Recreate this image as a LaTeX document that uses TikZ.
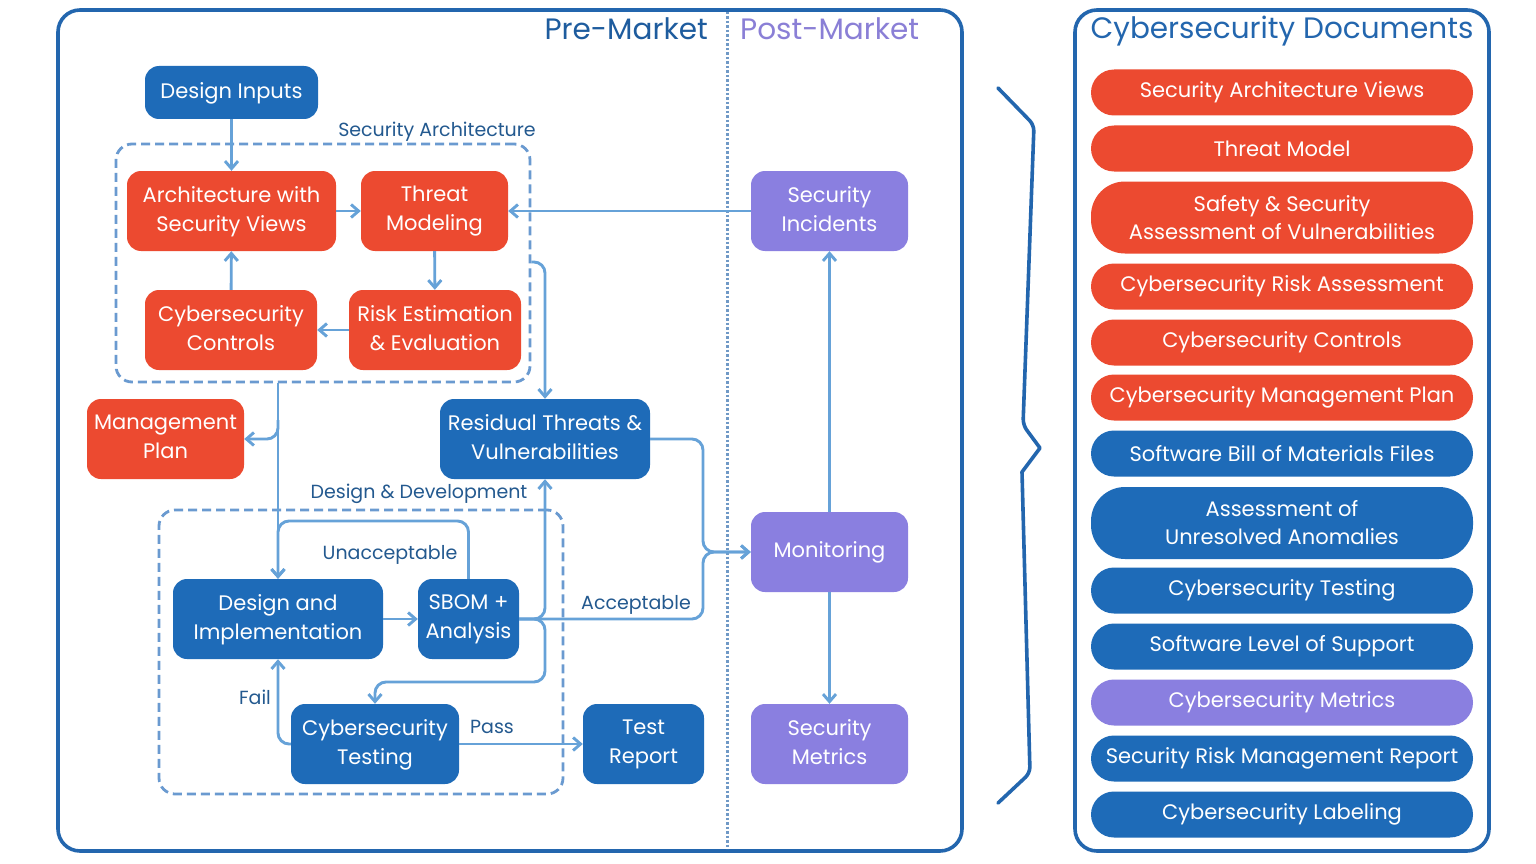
\documentclass[tikz,border=0pt]{standalone}
\usepackage{fontspec}
\setmainfont{Poppins}
\usetikzlibrary{arrows.meta}
\definecolor{cred}{HTML}{EC4A30}
\definecolor{cblue}{HTML}{1E6BB8}
\definecolor{cpurp}{HTML}{8A7FE0}
\definecolor{carrow}{HTML}{66A2D8}
\definecolor{cdash}{HTML}{6A9AD0}
\definecolor{cframe}{HTML}{2366AE}
\definecolor{clabel}{HTML}{23598F}
\definecolor{cpre}{HTML}{1E5C9E}
\definecolor{cpost}{HTML}{8A7FD6}
\definecolor{cdot}{HTML}{7099C6}
\begin{document}
\begin{tikzpicture}[x=1pt,y=-1pt,
  box/.style={rounded corners=14pt, text=white, align=center, inner sep=0pt,
    text depth=4.6pt, font=\fontsize{21}{29}\selectfont},
  wh/.style 2 args={minimum width=#1pt, minimum height=#2pt},
  redbox/.style={box, fill=cred},
  bluebox/.style={box, fill=cblue},
  purpbox/.style={box, fill=cpurp},
  pill/.style={text=white, align=center, inner sep=0pt, minimum width=382pt,
    minimum height=46pt, rounded corners=23pt, font=\fontsize{21}{28}\selectfont},
  tallpill/.style={pill, minimum height=72pt, rounded corners=34pt},
  conn/.style={draw=carrow, line width=2.9pt, rounded corners=11pt,
    -{Straight Barb[length=7.5pt,width=13pt,line width=2.9pt]}},
  grp/.style={draw=cdash, line width=2.8pt, dash pattern=on 9pt off 5pt,
    rounded corners=16pt, inner sep=0pt},
  lbl/.style={text=clabel, inner sep=0pt, font=\fontsize{19}{22}\selectfont},
  frame/.style={draw=cframe, line width=3.6pt, rounded corners=22pt}
]
\fill[white] (0,0) rectangle (1536,864);
\useasboundingbox (0,0) rectangle (1536,864);

% frames
\draw[frame] (58,10) rectangle (962,851);
\draw[frame] (1075,10) rectangle (1489,851);
\draw[cdot, line width=3pt, dash pattern=on 2.5pt off 2pt] (727,12) -- (727,849);

% titles
\node[anchor=east, text=cpre, inner sep=0pt, font=\fontsize{29.5}{32}\selectfont] (pre) at (708,29) {Pre-Market};
\node[anchor=west, text=cpost, inner sep=0pt, font=\fontsize{29.5}{32}\selectfont] (post) at (740,29) {Post-Market};
\node[text=cframe, inner sep=0pt, font=\fontsize{29.5}{32}\selectfont] (doctitle) at (1282,31) {Cybersecurity Documents};

% groups
\node[grp, wh={414}{238}] (secarch) at (323,263) {};
\node[lbl] (secarchl) at (437,131.5) {Security Architecture};
\node[grp, wh={404}{284}] (desdev) at (361,652) {};
\node[lbl] (desdevl) at (419,494) {Design \& Development};

% nodes
\node[bluebox, wh={173}{53}] (inputs) at (231.5,92.5) {Design Inputs};
\node[redbox, wh={209}{80}] (arch) at (231.5,211) {Architecture with\\Security Views};
\node[redbox, wh={147}{80}] (threat) at (434.5,211) {Threat\\Modeling};
\node[redbox, wh={172}{80}] (controls) at (231,330) {Cybersecurity\\Controls};
\node[redbox, wh={172}{80}] (risk) at (435,330) {Risk Estimation\\\& Evaluation};
\node[redbox, wh={157}{80}] (mgmt) at (165.5,439) {Management\\Plan};
\node[bluebox, wh={210}{80}] (resid) at (545,439) {Residual Threats \&\\Vulnerabilities};
\node[bluebox, wh={210}{80}] (desimpl) at (278,619) {Design and\\Implementation};
\node[bluebox, wh={101}{80}] (sbom) at (468.5,619) {SBOM +\\Analysis};
\node[bluebox, wh={168}{80}] (cstest) at (375,744) {Cybersecurity\\Testing};
\node[bluebox, wh={121}{80}] (report) at (643.5,744) {Test\\Report};
\node[purpbox, wh={157}{80}] (incid) at (829.5,211) {Security\\Incidents};
\node[purpbox, wh={157}{80}] (monit) at (829.5,552) {Monitoring};
\node[purpbox, wh={157}{80}] (metrics) at (829.5,744) {Security\\Metrics};

% connectors
\draw[conn] (inputs) -- (arch);
\draw[conn] (arch) -- (threat);
\draw[conn] (threat) -- (risk);
\draw[conn] (risk) -- (controls);
\draw[conn] (controls) -- (arch);
\draw[conn] (incid) -- (threat);
\draw[conn] (secarch.east |- 0,262) -| (resid.north);

\coordinate (vtop) at (desimpl.north |- secarch.south);
\coordinate (brmg) at (278,420);
\draw[conn] (vtop) -- (desimpl.north);
\draw[conn] (brmg) |- (mgmt.east);

\coordinate (unacc) at (278,521);
\draw[conn] (sbom.north) |- (unacc) -- (desimpl.north);
\node[lbl] (unaccl) at (390,555) {Unacceptable};

\draw[conn] (desimpl) -- (sbom);
\draw[conn] (sbom.east) -| (resid.south);
\coordinate (jn) at (703,552);
\draw[conn] (sbom.east) -| (jn) -- (monit.west);
\draw[conn] (resid.east) -| (jn) -- (monit.west);
\node[lbl] (accl) at (636,605) {Acceptable};
\coordinate (dn) at (545,682);
\draw[conn] (sbom.east) -| (dn) -| (cstest.north);

\draw[conn] (cstest.west) -| (desimpl.south);
\node[lbl] (faill) at (255,697) {Fail};
\draw[conn] (cstest) -- (report);
\node[lbl] (passl) at (492,727) {Pass};

\draw[conn] (monit) -- (incid);
\draw[conn] (monit) -- (metrics);

% brace
\draw[cframe, line width=3.6pt, line join=round, line cap=round, rounded corners=6pt]
  (998,88) -- (1034,125) -- (1023,425) [sharp corners] -- (1040,448) -- (1022,472) [rounded corners=6pt] -- (1030,773) -- (998,803);

% documents
\node[pill, fill=cred] (d1) at (1282,92.5) {Security Architecture Views};
\node[pill, fill=cred] (d2) at (1282,148.5) {Threat Model};
\node[tallpill, fill=cred] (d3) at (1282,217.5) {Safety \& Security\\Assessment of Vulnerabilities};
\node[pill, fill=cred] (d4) at (1282,286.5) {Cybersecurity Risk Assessment};
\node[pill, fill=cred] (d5) at (1282,342.5) {Cybersecurity Controls};
\node[pill, fill=cred] (d6) at (1282,397.5) {Cybersecurity Management Plan};
\node[pill, fill=cblue] (d7) at (1282,453.5) {Software Bill of Materials Files};
\node[tallpill, fill=cblue] (d8) at (1282,523) {Assessment of\\Unresolved Anomalies};
\node[pill, fill=cblue] (d9) at (1282,590.5) {Cybersecurity Testing};
\node[pill, fill=cblue] (d10) at (1282,646.5) {Software Level of Support};
\node[pill, fill=cpurp] (d11) at (1282,702.5) {Cybersecurity Metrics};
\node[pill, fill=cblue] (d12) at (1282,758.5) {Security Risk Management Report};
\node[pill, fill=cblue] (d13) at (1282,814.5) {Cybersecurity Labeling};
\end{tikzpicture}
\end{document}
